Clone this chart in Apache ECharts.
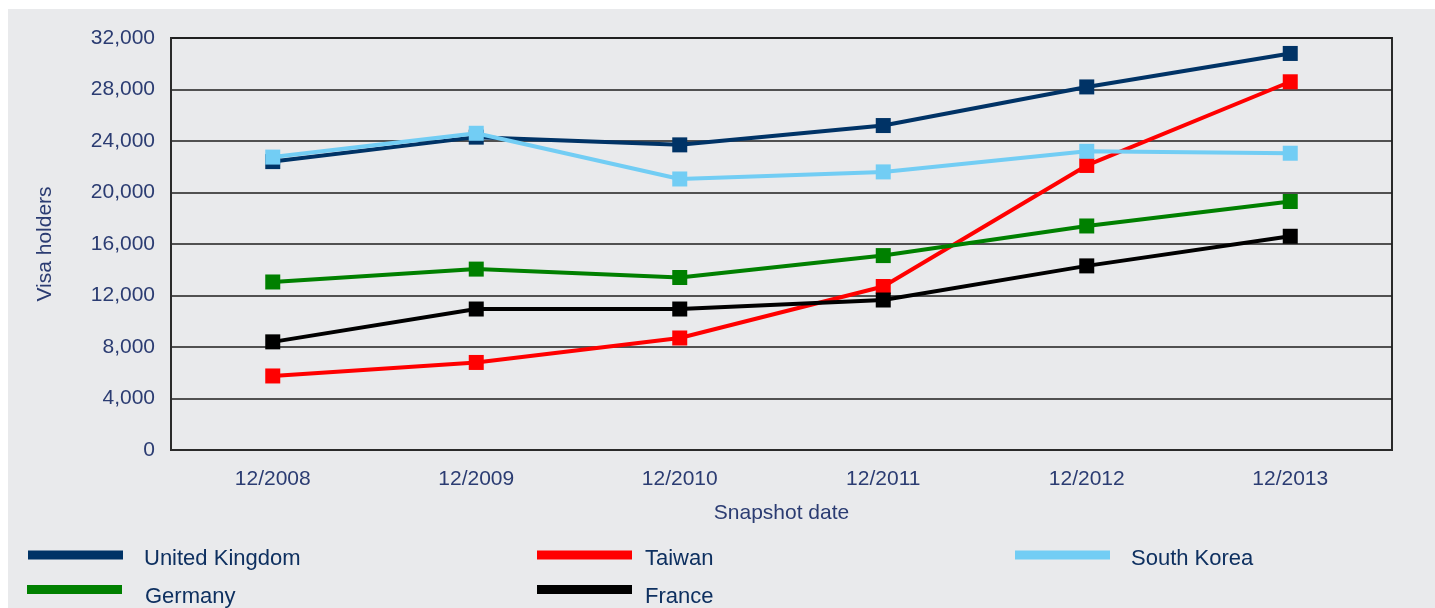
<!DOCTYPE html>
<html>
<head>
<meta charset="utf-8">
<script src="https://cdn.jsdelivr.net/npm/echarts@6/dist/echarts.min.js"></script>
<style>
html,body{margin:0;padding:0;background:#ffffff;}
#chart{width:1435px;height:608px;}
</style>
</head>
<body>
<div id="chart"></div>
<script>
const categories = ['12/2008', '12/2009', '12/2010', '12/2011', '12/2012', '12/2013'];
const unitedKingdom = [22400, 24300, 23700, 25200, 28200, 30800];
const taiwan = [5750, 6800, 8700, 12700, 22100, 28600];
const southKorea = [22750, 24600, 21050, 21600, 23200, 23050];
const germany = [13050, 14050, 13400, 15100, 17400, 19300];
const france = [8400, 10950, 10950, 11650, 14300, 16600];
const seriesNames = ['United Kingdom', 'Taiwan', 'South Korea', 'Germany', 'France'];
const seriesColors = ['#003366', '#ff0000', '#72cdf4', '#008000', '#000000'];
const seriesData = [unitedKingdom, taiwan, southKorea, germany, france];

const chart = echarts.init(document.getElementById('chart'));
const textColor = '#2b3c72';
const legendPos = [
  {left: 28, top: 548, gap: 16, dy: 4},
  {left: 537, top: 548, gap: 8, dy: 4},
  {left: 1015, top: 548, gap: 16, dy: 4},
  {left: 27, top: 585, gap: 18, dy: 7},
  {left: 537, top: 585, gap: 8, dy: 7}
];
const option = {
  backgroundColor: '#ffffff',
  animation: false,
  graphic: [{
    type: 'rect', z: -10, silent: true,
    shape: {x: 8, y: 9, width: 1427, height: 599},
    style: {fill: '#e9eaec'}
  }],
  grid: {left: 171, top: 38, right: 43, bottom: 158, show: true, borderColor: '#2a2a2a', borderWidth: 2, backgroundColor: 'transparent'},
  legend: seriesNames.map((n, i) => ({
    data: [n], left: legendPos[i].left, top: legendPos[i].top, padding: 0,
    icon: 'rect', itemWidth: 95, itemHeight: 9,
    formatter: name => '{t|' + name + '}',
    textStyle: {
      rich: {
        t: {fontFamily: 'Liberation Sans', fontSize: 22, color: '#0e3060',
          padding: [legendPos[i].dy * 2, 0, 0, legendPos[i].gap]}
      }
    }
  })),
  xAxis: {
    type: 'category', data: categories, boundaryGap: true,
    name: 'Snapshot date', nameLocation: 'middle', nameGap: 53,
    nameTextStyle: {fontFamily: 'Liberation Sans', fontSize: 21, color: textColor},
    axisLine: {show: true, lineStyle: {color: '#2a2a2a', width: 2}},
    axisTick: {show: false},
    axisLabel: {fontFamily: 'Liberation Sans', fontSize: 21, color: textColor, margin: 19}
  },
  yAxis: {
    type: 'value', min: 0, max: 32000, interval: 4000,
    name: 'Visa holders', nameLocation: 'middle', nameGap: 115, nameRotate: 90,
    nameTextStyle: {fontFamily: 'Liberation Sans', fontSize: 21, color: textColor},
    axisLine: {show: true, lineStyle: {color: '#2a2a2a', width: 2}},
    axisTick: {show: false},
    splitLine: {show: true, lineStyle: {color: '#1e1e1e', width: 1.5}},
    axisLabel: {fontFamily: 'Liberation Sans', fontSize: 21, color: textColor, margin: 16,
      formatter: v => v.toLocaleString('en-US')}
  },
  series: seriesNames.map((n, i) => ({
    name: n, type: 'line', data: seriesData[i],
    symbol: 'rect', symbolSize: 15, showSymbol: true,
    lineStyle: {color: seriesColors[i], width: 4},
    itemStyle: {color: seriesColors[i]},
    z: 2 + i
  }))
};
chart.setOption(option);
</script>
</body>
</html>
